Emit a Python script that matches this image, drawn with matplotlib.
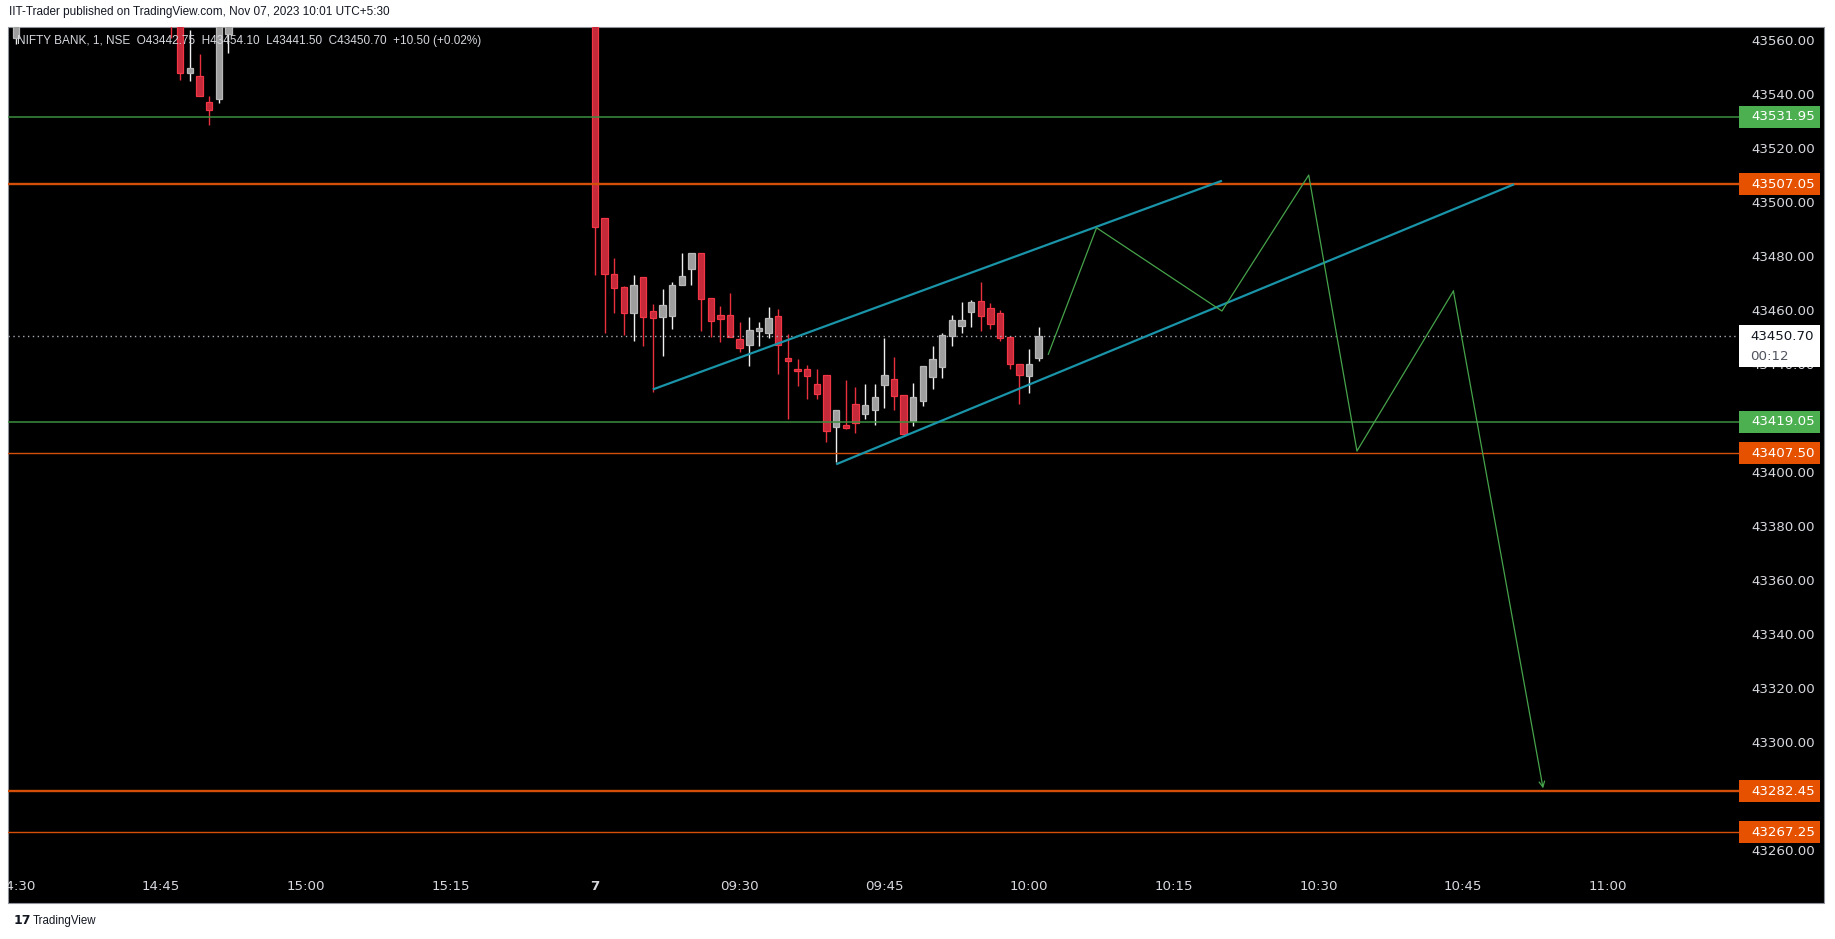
import matplotlib
matplotlib.use("Agg")
import matplotlib.pyplot as plt
from matplotlib.patches import Rectangle
import matplotlib.transforms as mtrans
from matplotlib import font_manager

# ---------------- data ----------------
bar_idx = [-60, -44, -43, -42, -41, -40, -39, -38] + list(range(0, 47))
opens = [43561, 43585, 43580, 43548.0, 43547.1, 43537.3, 43538.4, 43562.5,
         43585, 43494.4, 43473.8, 43469.0, 43459.5, 43472.7, 43460.1, 43458.0,
         43458.4, 43469.7, 43475.6, 43481.6, 43464.8, 43458.6, 43458.6, 43449.6,
         43447.6, 43452.6, 43452.1, 43458.3, 43442.7, 43438.7, 43438.7, 43433.1,
         43436.4, 43417.3, 43417.9, 43425.7, 43422.1, 43423.6, 43432.8, 43435.0,
         43429.0, 43419.5, 43426.9, 43435.8, 43439.5, 43450.9, 43454.7, 43459.9,
         43463.8, 43461.2, 43459.4, 43450.5, 43440.5, 43436.2, 43442.75]
highs = [43595, 43590, 43585, 43564.1, 43555.2, 43539.5, 43600, 43605,
         43590, 43494.4, 43479.6, 43469.5, 43473.4, 43472.7, 43462.7, 43468.2,
         43470.7, 43481.6, 43481.6, 43481.6, 43464.8, 43462.0, 43466.8, 43456.0,
         43457.9, 43456.0, 43461.6, 43460.9, 43451.6, 43442.4, 43440.2, 43438.8,
         43436.4, 43423.5, 43434.6, 43432.0, 43433.1, 43433.1, 43450.1, 43443.1,
         43429.0, 43433.5, 43439.8, 43447.2, 43452.0, 43458.6, 43463.4, 43464.2,
         43470.8, 43463.1, 43460.5, 43451.0, 43440.5, 43446.1, 43454.10]
lows = [43559, 43561, 43545.6, 43545.3, 43539.5, 43528.9, 43537.0, 43555.4,
        43473.4, 43452.1, 43459.5, 43451.3, 43449.1, 43447.3, 43430.3, 43443.6,
        43453.5, 43469.7, 43469.7, 43452.8, 43450.6, 43448.8, 43450.6, 43445.1,
        43439.9, 43447.3, 43450.2, 43436.9, 43420.3, 43432.5, 43427.7, 43427.7,
        43411.8, 43404.2, 43416.6, 43415.1, 43420.3, 43418.1, 43424.2, 43423.6,
        43414.7, 43417.7, 43425.1, 43431.4, 43435.4, 43447.3, 43452.1, 43454.3,
        43452.8, 43453.6, 43449.1, 43438.8, 43425.8, 43429.9, 43441.50]
closes = [43590, 43566, 43548.0, 43549.9, 43539.5, 43534.4, 43595, 43600,
          43491.1, 43473.7, 43468.7, 43459.5, 43469.7, 43458.0, 43457.6, 43462.3,
          43469.7, 43473.1, 43481.6, 43464.7, 43456.5, 43457.0, 43450.6, 43446.5,
          43453.1, 43453.8, 43457.5, 43447.6, 43441.7, 43438.0, 43436.2, 43429.5,
          43415.8, 43423.5, 43416.9, 43418.8, 43425.3, 43428.3, 43436.4, 43428.8,
          43414.7, 43428.3, 43439.8, 43442.4, 43451.2, 43456.8, 43456.8, 43463.4,
          43458.4, 43455.4, 43450.2, 43440.6, 43436.5, 43440.5, 43450.70]

green_levels = [43531.95, 43419.05]
orange_levels = [43507.05, 43407.50, 43282.45, 43267.25]
orange_widths = [1.7, 1.0, 1.7, 1.0]
last_price = 43450.70
countdown = "00:12"

# price scale labels (43280 and 43420 are hidden behind level labels)
price_ticks = [43260, 43300, 43320, 43340, 43360, 43380, 43400, 43440,
               43460, 43480, 43500, 43520, 43540, 43560]
time_tick_idx = [-60, -45, -30, -15, 0, 15, 30, 45, 60, 75, 90, 105]
time_tick_lab = ["14:30", "14:45", "15:00", "15:15", "7", "09:30", "09:45",
                 "10:00", "10:15", "10:30", "10:45", "11:00"]

channel_upper_x = [6, 65]
channel_upper_y = [43431.1, 43508.3]
channel_lower_x = [25, 95.3]
channel_lower_y = [43403.4, 43507.0]

path_x = [47, 52, 65, 74, 79, 89, 98.3]
path_y = [43444.1, 43490.9, 43460.1, 43510.4, 43408.3, 43467.5, 43283.5]

header = "IIT-Trader published on TradingView.com, Nov 07, 2023 10:01 UTC+5:30"
legend = "NIFTY BANK, 1, NSE  O43442.75  H43454.10  L43441.50  C43450.70  +10.50 (+0.02%)"

# ---------------- layout ----------------
W, H = 1835, 939
X0, PXB = 595.0, 9.645
Y0P, Y0, PPX = 43560.0, 41.0, 2.703


def fx(px):
    return px / W


def fy(py):
    return 1 - py / H


def price_at(py):
    return Y0P - (py - Y0) / PPX


names = {f.name for f in font_manager.fontManager.ttflist}
narrow = "Liberation Sans" if "Liberation Sans" in names else "DejaVu Sans"

fig = plt.figure(figsize=(W / 100, H / 100), dpi=100, facecolor="white")

# black chart background with thin border
fig.add_artist(Rectangle((fx(8), fy(903)), fx(1824) - fx(8), fy(27) - fy(903),
                         transform=fig.transFigure, facecolor="black",
                         edgecolor="#8f929b", lw=0.8, zorder=-5))

ax = fig.add_axes([fx(8), fy(868), fx(1739) - fx(8), fy(27) - fy(868)])
ax.set_facecolor("none")
ax.set_xlim((8 - X0) / PXB, (1739 - X0) / PXB)
ax.set_ylim(price_at(868), price_at(27))
ax.set_axis_off()

# candles
RED_F, RED_E, RED_W = "#c42a3a", "#f23645", "#e8303f"
GRY_F, GRY_E, GRY_W = "#9e9e9e", "#b8b8b8", "#f0f0f0"
for x, o, h, l, c in zip(bar_idx, opens, highs, lows, closes):
    up = c >= o
    wc = GRY_W if up else RED_W
    ax.vlines(x, l, h, color=wc, lw=1.0, zorder=2)
    lo, hi = min(o, c), max(o, c)
    ax.add_patch(Rectangle((x - 0.33, lo), 0.66, max(hi - lo, 0.3),
                           facecolor=GRY_F if up else RED_F,
                           edgecolor=GRY_E if up else RED_E, lw=0.9, zorder=3))

# horizontal levels
for lv in green_levels:
    ax.axhline(lv, color="#3d8f40", lw=1.1, zorder=5)
for lv, lw in zip(orange_levels, orange_widths):
    ax.axhline(lv, color="#d4500a", lw=lw, zorder=5)

# last price dotted line
ax.axhline(last_price, color="#a8abb3", lw=1.0, ls=(0, (1, 2.5)), zorder=4)

# channel
ax.plot(channel_upper_x, channel_upper_y, color="#1a94a8", lw=1.6, zorder=6,
        solid_capstyle="butt")
ax.plot(channel_lower_x, channel_lower_y, color="#1a94a8", lw=1.6, zorder=6,
        solid_capstyle="butt")

# projected path
ZZ = "#46a34a"
ax.plot(path_x[:-1], path_y[:-1], color=ZZ, lw=0.9, zorder=7)
ax.annotate("", xy=(path_x[-1], path_y[-1]), xytext=(path_x[-2], path_y[-2]),
            arrowprops=dict(arrowstyle="->", color=ZZ, lw=0.9,
                            mutation_scale=10, shrinkA=0, shrinkB=0),
            zorder=7)

# ---------------- price axis ----------------
btr = mtrans.blended_transform_factory(fig.transFigure, ax.transData)
for p in price_ticks:
    fig.text(fx(1815), p, f"{p:.2f}", transform=btr, ha="right", va="center",
             color="#d6d8de", fontsize=9.6, family="DejaVu Sans", zorder=10)

box_h = 22 / PPX
for lv in green_levels:
    fig.add_artist(Rectangle((fx(1739), lv - box_h / 2), fx(1820) - fx(1739), box_h,
                             transform=btr, facecolor="#4caf50", edgecolor="none", zorder=11))
    fig.text(fx(1815), lv, f"{lv:.2f}", transform=btr, ha="right", va="center",
             color="white", fontsize=9.6, family="DejaVu Sans", zorder=12)
for lv in orange_levels:
    fig.add_artist(Rectangle((fx(1739), lv - box_h / 2), fx(1820) - fx(1739), box_h,
                             transform=btr, facecolor="#e65100", edgecolor="none", zorder=11))
    fig.text(fx(1815), lv, f"{lv:.2f}", transform=btr, ha="right", va="center",
             color="white", fontsize=9.6, family="DejaVu Sans", zorder=12)

# current price box
fig.add_artist(Rectangle((fx(1739), fy(367)), fx(1820) - fx(1739), fy(325) - fy(367),
                         transform=fig.transFigure, facecolor="white",
                         edgecolor="none", zorder=11))
fig.text(fx(1750), fy(336), f"{last_price:.2f}", ha="left", va="center",
         color="#131722", fontsize=9.6, family="DejaVu Sans", zorder=12)
fig.text(fx(1750), fy(356), countdown, ha="left", va="center",
         color="#50535e", fontsize=9.6, family="DejaVu Sans", zorder=12)

# ---------------- time axis ----------------
clip = mtrans.TransformedBbox(
    mtrans.Bbox.from_extents(fx(8), fy(903), fx(1824), fy(27)), fig.transFigure)
for i, lab in zip(time_tick_idx, time_tick_lab):
    x = X0 + i * PXB
    t = fig.text(fx(x), fy(886), lab, ha="center", va="center",
                 color="#d6d8de", fontsize=9.6, family="DejaVu Sans",
                 fontweight="bold" if lab == "7" else "normal", zorder=10)
    t.set_clip_box(clip)
    t.set_clip_on(True)

# ---------------- texts ----------------
fig.text(fx(9), fy(12), header, ha="left", va="center", color="#131722",
         fontsize=8.5, family=narrow)
fig.text(fx(17), fy(41), legend, ha="left", va="center", color="#d6d8de",
         fontsize=8.5, family=narrow, zorder=10)
fig.text(fx(14), fy(921), "17", ha="left", va="center", color="#131722",
         fontsize=9, fontweight="bold", family="DejaVu Sans")
fig.text(fx(33), fy(921), "TradingView", ha="left", va="center", color="#131722",
         fontsize=8.3, family=narrow)

fig.savefig("out.png", dpi=100, facecolor="white")
